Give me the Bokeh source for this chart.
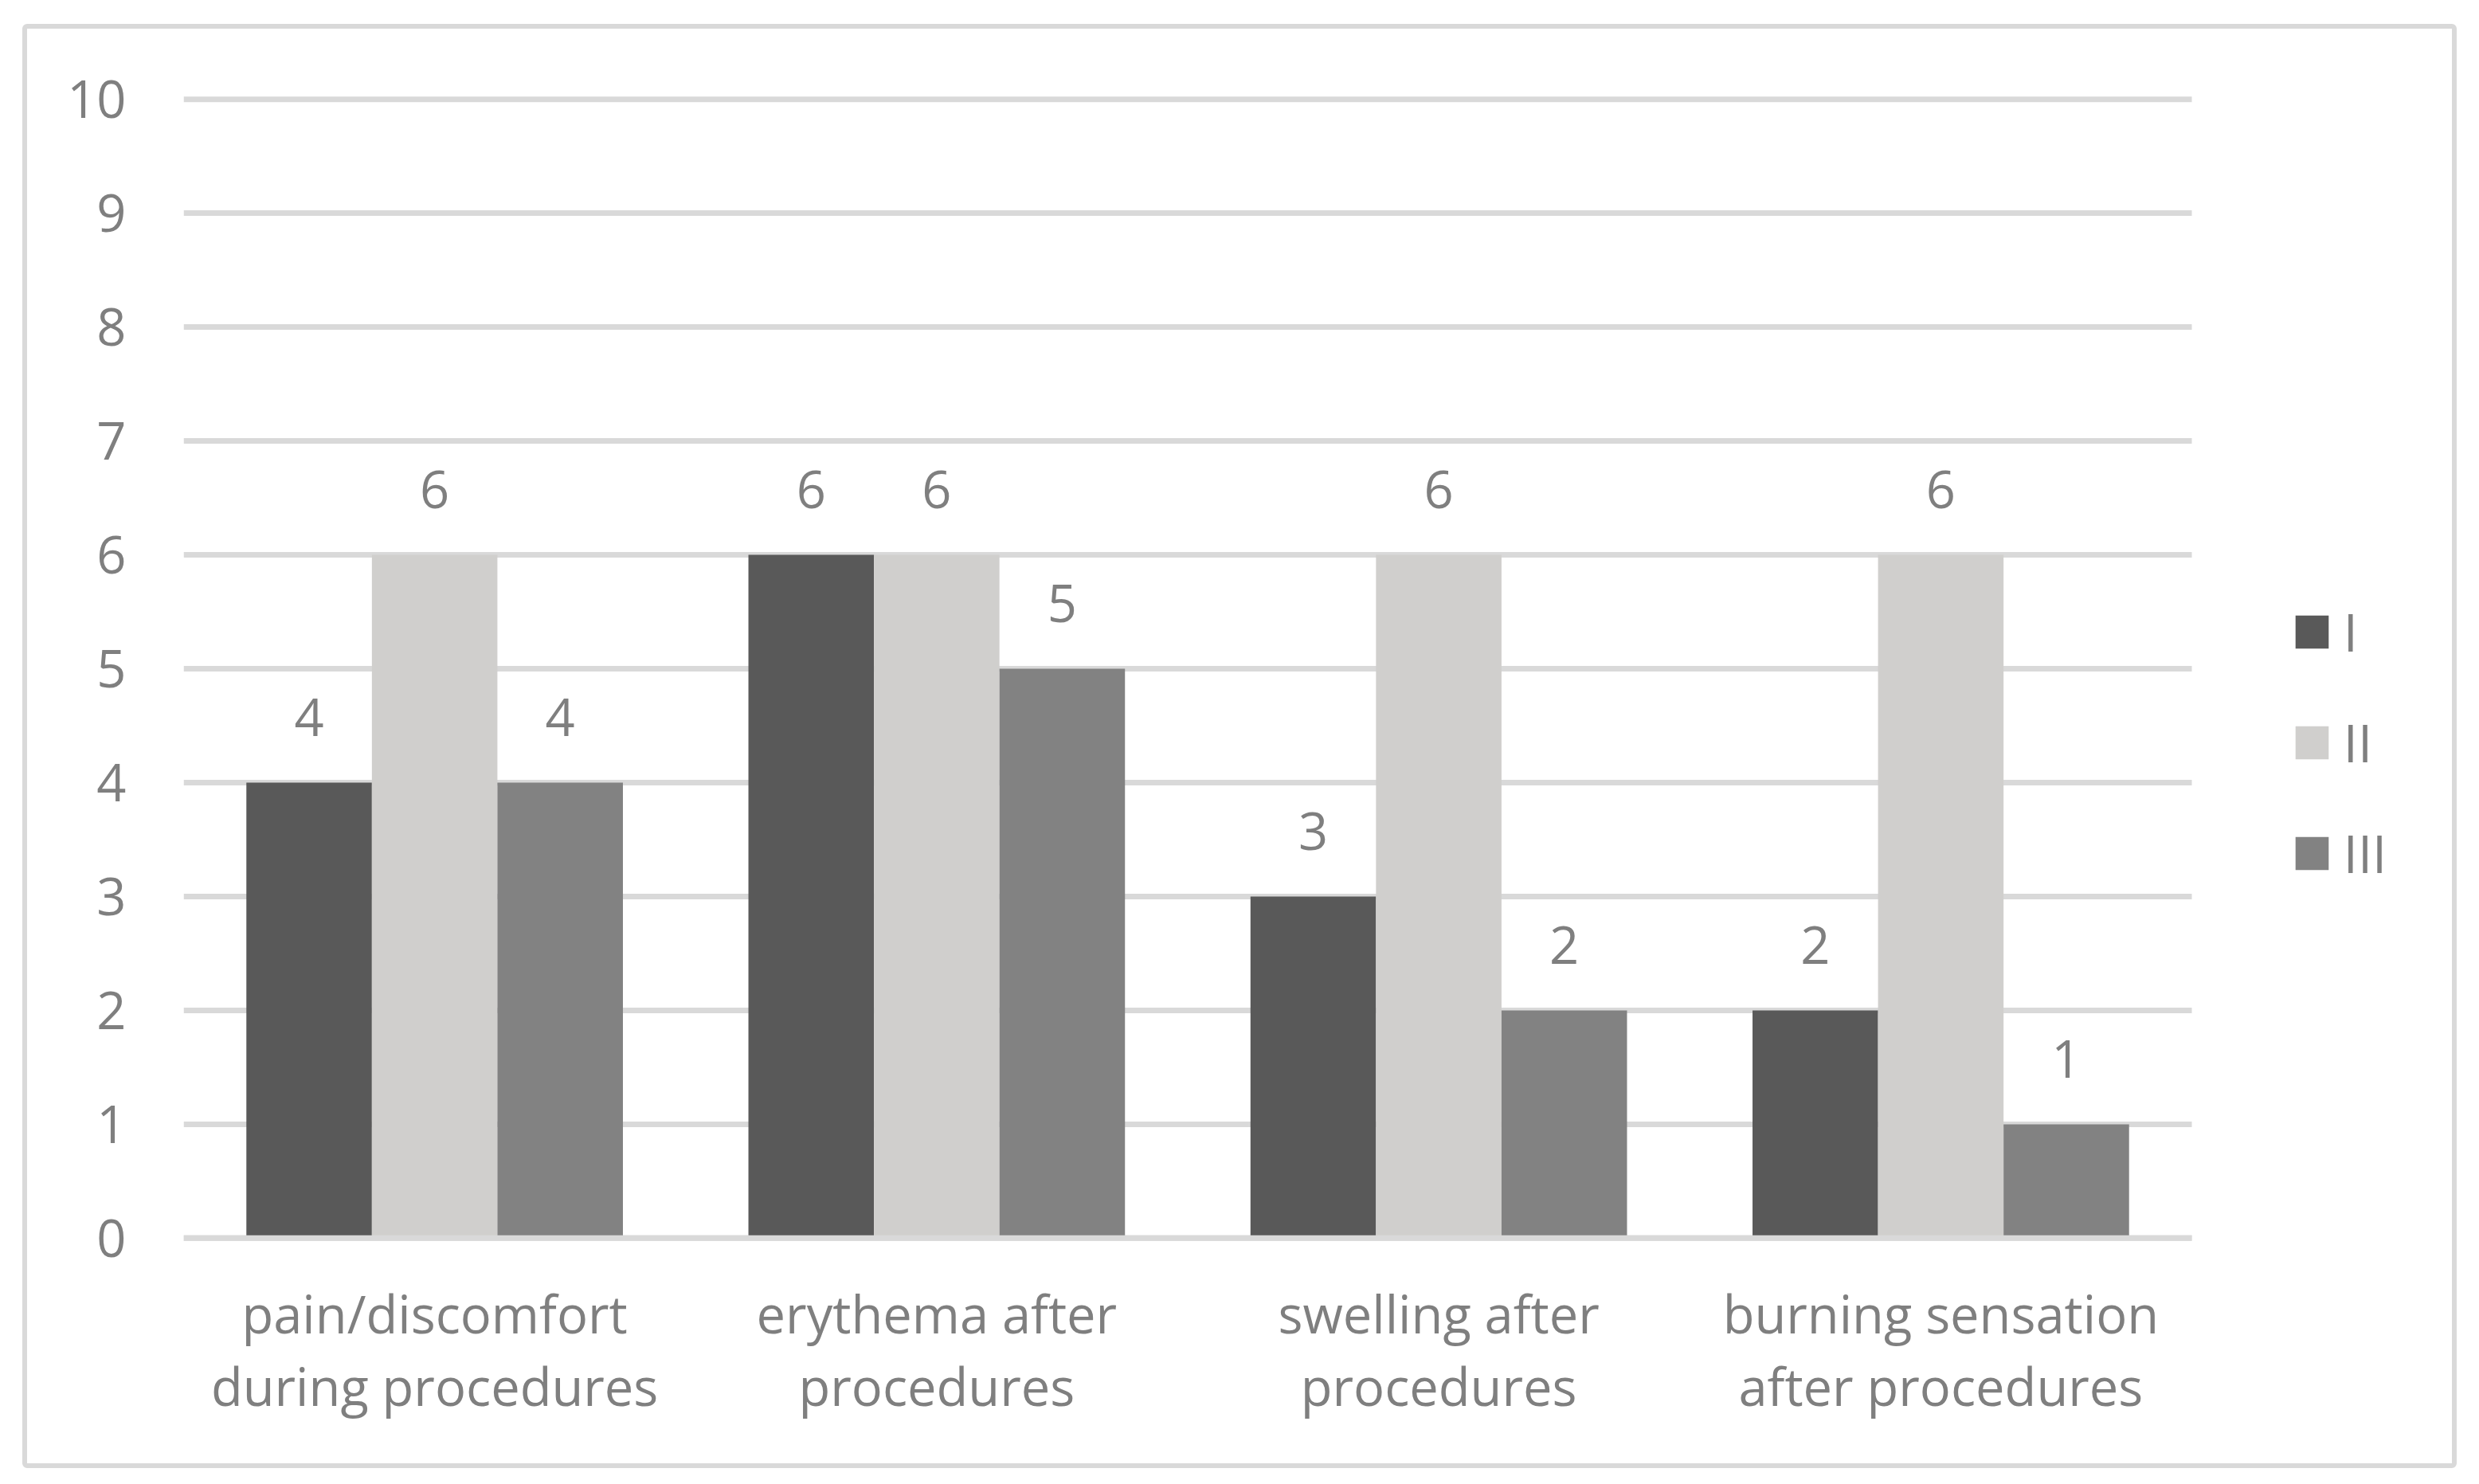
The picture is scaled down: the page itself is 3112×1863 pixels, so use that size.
from bokeh.plotting import figure
from bokeh.models import (Range1d, FixedTicker, LinearAxis, Legend, LegendItem,
                          ColumnDataSource, InlineStyleSheet)
from bokeh.core.properties import value
from bokeh.embed import file_html
from bokeh.resources import INLINE

# ---------------- data ----------------
categories = [
    "pain/discomfort during procedures",
    "erythema after procedures",
    "swelling after procedures",
    "burning sensation after procedures",
]
label_line1 = ["pain/discomfort", "erythema after", "swelling after", "burning sensation"]
label_line2 = ["during procedures", "procedures", "procedures", "after procedures"]
series_names = ["I", "II", "III"]
values_I = [4, 6, 3, 2]
values_II = [6, 6, 6, 6]
values_III = [4, 5, 2, 1]
y_ticks = [0, 1, 2, 3, 4, 5, 6, 7, 8, 9, 10]

# ---------------- style ----------------
FONT = "Open Sans"
FS = "65px"
TEXT_COLOR = "#7f7f7f"
GRID_COLOR = "#d9d9d9"
colors = ["#595959", "#d0cfcd", "#828282"]
series_values = [values_I, values_II, values_III]

n = len(categories)
W, H = 3096, 1847
PLOT_LEFT, PLOT_PX, FRAME_RIGHT = 230, 2521, 3070      # pixel layout of the frame
frame_px = FRAME_RIGHT - PLOT_LEFT
x_end = -0.5 + n * frame_px / PLOT_PX                  # extra room on the right for the legend

p = figure(width=W, height=H, output_backend="svg", toolbar_location=None,
           x_range=Range1d(-0.5, x_end),
           y_range=Range1d(-0.05, 10.05),
           x_axis_type=None, y_axis_type=None,
           min_border_left=PLOT_LEFT, min_border_right=W - FRAME_RIGHT,
           min_border_top=117, min_border_bottom=286)
p.outline_line_color = None
p.background_fill_color = "white"
p.border_fill_color = "white"

# y axis
yaxis = LinearAxis(ticker=FixedTicker(ticks=y_ticks))
yaxis.axis_line_color = None
yaxis.major_tick_line_color = None
yaxis.minor_tick_line_color = None
yaxis.major_tick_out = 0
yaxis.major_tick_in = 0
yaxis.major_label_standoff = 72
yaxis.major_label_text_font = FONT
yaxis.major_label_text_font_size = FS
yaxis.major_label_text_color = TEXT_COLOR
p.add_layout(yaxis, "left")

# horizontal gridlines limited to the category area
p.segment(x0=-0.5, x1=n - 0.5, y0=y_ticks, y1=y_ticks,
          line_color=GRID_COLOR, line_width=7)

# x axes (two lines of category label)
positions = list(range(n))
for lines, standoff in ((label_line1, 43), (label_line2, 0)):
    xa = LinearAxis(ticker=FixedTicker(ticks=positions),
                    major_label_overrides={i: t for i, t in zip(positions, lines)})
    xa.axis_line_color = None
    xa.major_tick_line_color = None
    xa.minor_tick_line_color = None
    xa.major_tick_out = 0
    xa.major_tick_in = 0
    xa.major_label_standoff = standoff
    xa.major_label_text_font = FONT
    xa.major_label_text_font_size = FS
    xa.major_label_text_color = TEXT_COLOR
    p.add_layout(xa, "below")

# bars
bar_w = 0.25
items = []
for j, (name, vals, col) in enumerate(zip(series_names, series_values, colors)):
    xs = [i + (j - 1) * bar_w for i in positions]
    src = ColumnDataSource(dict(x=xs, top=vals, lab=[str(v) for v in vals]))
    r = p.vbar(x="x", top="top", bottom=0, width=bar_w, source=src,
               fill_color=col, line_color=None)
    p.text(x="x", y="top", text="lab", source=src, text_align="center",
           text_baseline="middle", y_offset=-82, text_font=value(FONT),
           text_font_size=FS, text_color=TEXT_COLOR)
    items.append(LegendItem(label=name, renderers=[r]))

# zero line drawn over the bars
p.segment(x0=[-0.5], x1=[n - 0.5], y0=[0], y1=[0],
          line_color=GRID_COLOR, line_width=7)

legend = Legend(items=items, location=(2645.8, 446), orientation="vertical",
                glyph_width=52, glyph_height=52, label_standoff=14,
                padding=0, margin=0, spacing=51,
                border_line_color=None, background_fill_alpha=0,
                label_text_font=FONT, label_text_font_size=FS,
                label_text_color=TEXT_COLOR)
p.add_layout(legend, "center")

# chart outer border (rounded rectangle)
p.stylesheets = [InlineStyleSheet(css="""
:host { position: relative; }
:host::after {
  content: ""; position: absolute; box-sizing: content-box;
  left: 27.5px; top: 29.5px; width: 3044.5px; height: 1801px;
  border: 6px solid #d9d9d9; border-radius: 6px; pointer-events: none;
}
""")]

open("out.html", "w").write(file_html(p, INLINE))
